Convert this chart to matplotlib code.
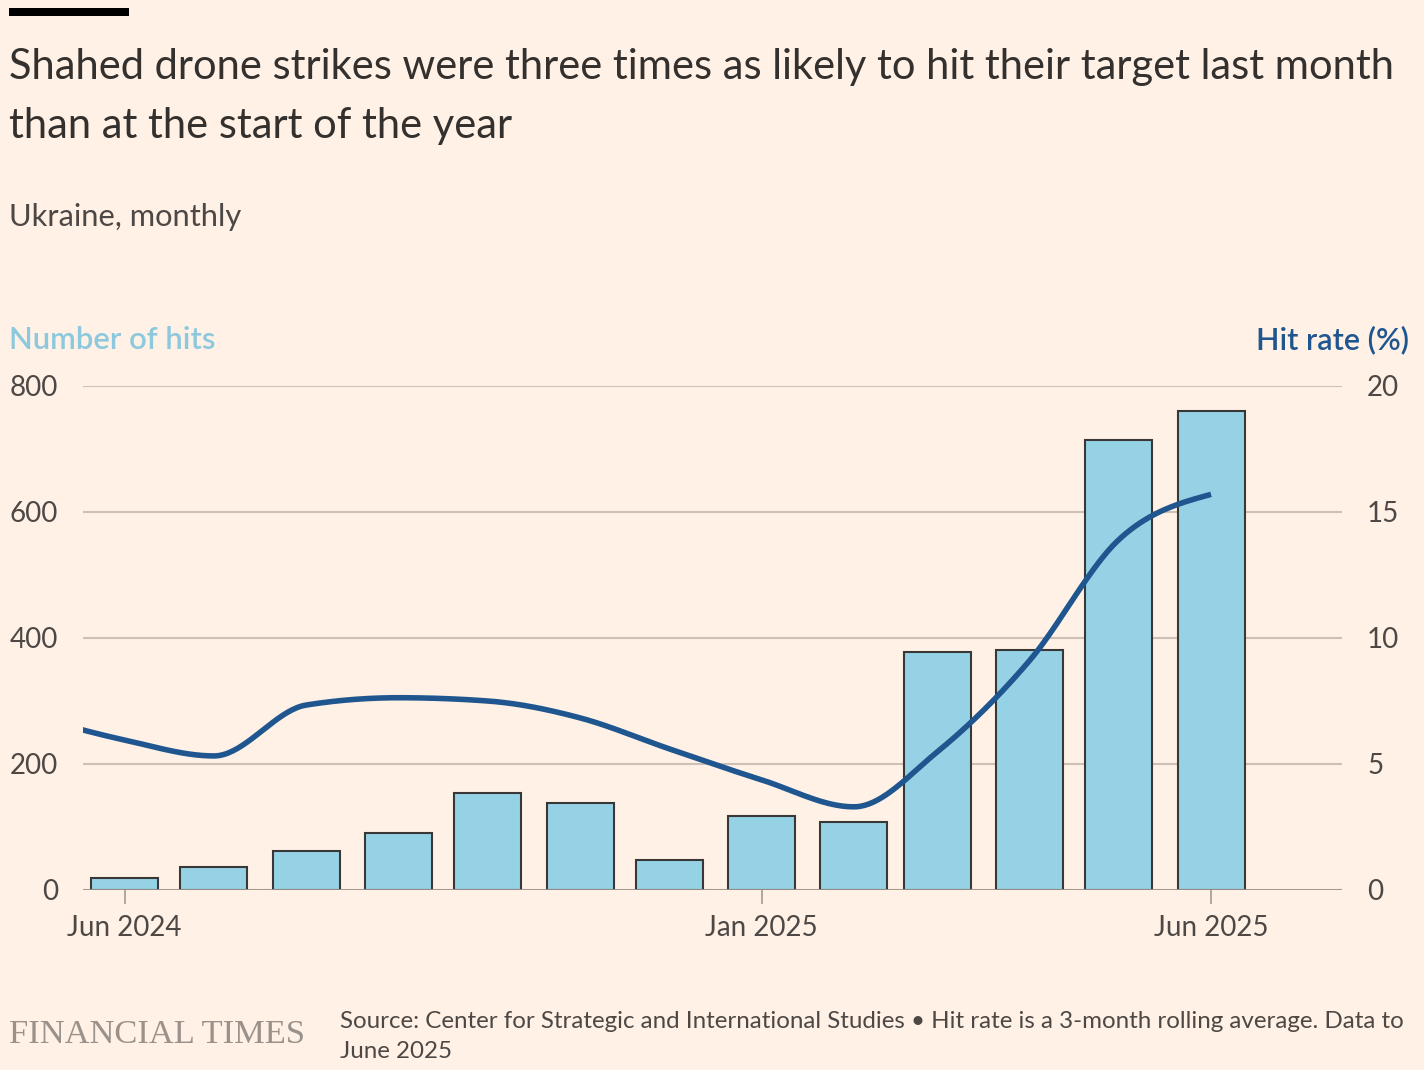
import numpy as np
import pandas as pd
import matplotlib
matplotlib.use("Agg")
import matplotlib.pyplot as plt
import matplotlib.dates as mdates
from matplotlib.patches import Rectangle

# data
months = ["2024-06", "2024-07", "2024-08", "2024-09", "2024-10", "2024-11", "2024-12",
          "2025-01", "2025-02", "2025-03", "2025-04", "2025-05", "2025-06"]
hits = [19, 36, 62, 90, 154, 138, 48, 117, 108, 378, 381, 714, 760]

rate_months = ["2024-05"] + months
hit_rate = [6.9, 5.95, 5.32, 7.34, 7.63, 7.5, 6.83, 5.6, 4.37, 3.3, 5.48, 9.1, 13.9, 15.7]

x_ticks = ["2024-06", "2025-01", "2025-06"]
x_tick_labels = ["Jun 2024", "Jan 2025", "Jun 2025"]
left_ticks = [0, 200, 400, 600, 800]
right_ticks = [0, 5, 10, 15, 20]

title = ["Shahed drone strikes were three times as likely to hit their target last month",
         "than at the start of the year"]
subtitle = "Ukraine, monthly"
source = ["Source: Center for Strategic and International Studies \u2022 Hit rate is a 3-month rolling average. Data to",
          "June 2025"]

BG = "#FFF1E5"
BAR = "#96D2E5"
LINE = "#1F5690"
TEXT = "#33302E"
GREY = "#4D4845"
GRID = "#CCC1B7"

plt.rcParams["font.family"] = ["Lato", "DejaVu Sans"]

W, H = 1424, 1070


def px(x):
    return x / W


def py(y):
    return 1 - y / H


def monotone(x, y, n=40):
    # d3 curveMonotoneX style interpolation
    x = np.asarray(x, float)
    y = np.asarray(y, float)
    h = np.diff(x)
    s = np.diff(y) / h
    t = np.zeros_like(y)
    for i in range(1, len(y) - 1):
        s0, s1 = s[i - 1], s[i]
        p = (s0 * h[i] + s1 * h[i - 1]) / (h[i - 1] + h[i])
        t[i] = (np.sign(s0) + np.sign(s1)) * min(abs(s0), abs(s1), 0.5 * abs(p))
    t[0] = (3 * s[0] - t[1]) / 2
    t[-1] = (3 * s[-1] - t[-2]) / 2
    xs, ys = [], []
    for i in range(len(h)):
        u = np.linspace(0, 1, n)
        h00 = 2 * u**3 - 3 * u**2 + 1
        h10 = u**3 - 2 * u**2 + u
        h01 = -2 * u**3 + 3 * u**2
        h11 = u**3 - u**2
        xs.append(x[i] + u * h[i])
        ys.append(h00 * y[i] + h10 * h[i] * t[i] + h01 * y[i + 1] + h11 * h[i] * t[i + 1])
    return np.concatenate(xs), np.concatenate(ys)


fig = plt.figure(figsize=(W / 100, H / 100), dpi=100, facecolor=BG)
ax = fig.add_axes([px(83), py(890), px(1342) - px(83), py(386) - py(890)])
ax.set_facecolor(BG)

bar_x = mdates.date2num(pd.to_datetime(months))
ax.bar(bar_x, hits, width=22.5, color=BAR, edgecolor="#3A3836", linewidth=1.5, zorder=3)

ax.set_xlim(mdates.date2num(pd.Timestamp("2024-05-18")), mdates.date2num(pd.Timestamp("2025-07-15")))
ax.set_ylim(0, 800)
ax.set_yticks(left_ticks)
ax.set_yticklabels([str(v) for v in left_ticks])
ax.set_xticks(mdates.date2num(pd.to_datetime(x_ticks)))
ax.set_xticklabels(x_tick_labels)
ax.grid(axis="y", color=GRID, linewidth=1.5, zorder=0)
ax.set_axisbelow(True)
for sp in ax.spines.values():
    sp.set_visible(False)
ax.axhline(0, color="#9E958D", linewidth=2, zorder=4)
ax.tick_params(axis="y", length=0, pad=18, labelsize=20, labelcolor=GREY)
ax.tick_params(axis="x", length=10, width=1.2, color="#A39A92", pad=8, labelsize=20, labelcolor=GREY)

ax2 = ax.twinx()
ax2.set_ylim(0, 20)
ax2.set_yticks(right_ticks)
ax2.set_yticklabels([str(v) for v in right_ticks])
for sp in ax2.spines.values():
    sp.set_visible(False)
ax2.tick_params(axis="y", length=0, pad=18, labelsize=20, labelcolor=GREY)

lx, ly = monotone(mdates.date2num(pd.to_datetime(rate_months)), hit_rate)
ax2.plot(lx, ly, color=LINE, linewidth=4, solid_capstyle="butt", zorder=5)

# header
fig.add_artist(Rectangle((px(9), py(15.5)), px(129) - px(9), 7.5 / H,
                         transform=fig.transFigure, color="black", lw=0))
fig.text(px(9), py(79), title[0], fontsize=30, color=TEXT, va="baseline")
fig.text(px(9), py(138), title[1], fontsize=30, color=TEXT, va="baseline")
fig.text(px(9), py(226), subtitle, fontsize=22.2, color=GREY, va="baseline")

fig.text(px(9), py(349), "Number of hits", fontsize=22.3, fontweight="semibold",
         color="#8CC8DE", va="baseline")
fig.text(px(1409), py(349), "Hit rate (%)", fontsize=22, fontweight="semibold",
         color=LINE, va="baseline", ha="right")

# footer
fig.text(px(9), py(1043), "FINANCIAL TIMES", fontsize=24.8, color="#9A918A",
         family="Liberation Serif", va="baseline")
fig.text(px(340), py(1028), source[0], fontsize=17.4, color=GREY, va="baseline")
fig.text(px(340), py(1058), source[1], fontsize=17.4, color=GREY, va="baseline")

fig.savefig("out.png", dpi=100, facecolor=BG)
